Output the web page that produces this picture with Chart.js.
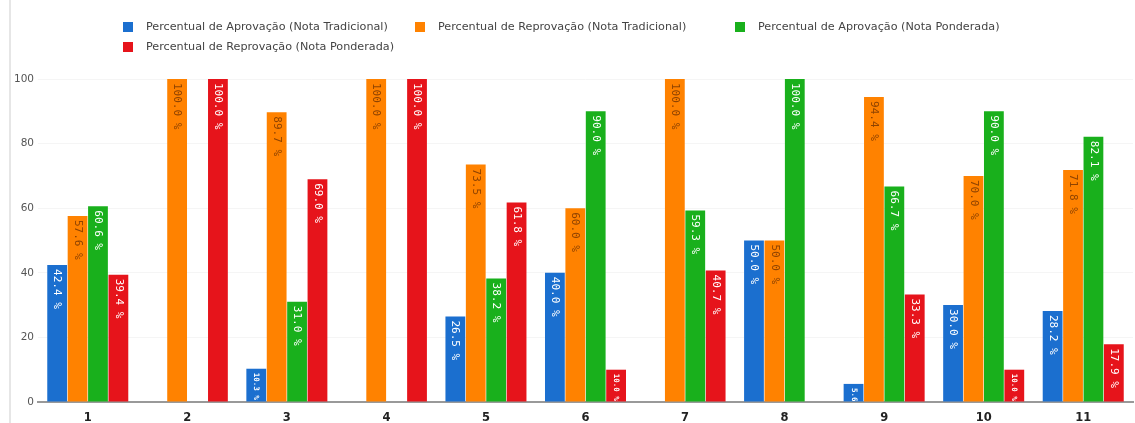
<!DOCTYPE html>
<html>
<head>
<meta charset="utf-8">
<script src="https://cdn.jsdelivr.net/npm/chart.js@4.4.1/dist/chart.umd.min.js"></script>
<style>
    html, body { margin: 0; padding: 0; background: #fff; overflow: hidden; }
    #wrap { position: relative; width: 1135px; height: 432px; }
    #grafico { position: absolute; left: 0; top: 0; }
    #edge { position: absolute; left: 9px; top: 0; width: 2px; height: 432px; background: #e6e6e6; }
    #legend { position: absolute; left: 0; top: 0; width: 1135px; height: 60px;
              font-family: "DejaVu Sans", Verdana, sans-serif; font-size: 11.2px; color: #444; }
    .item { position: absolute; display: flex; align-items: center; white-space: nowrap; }
    .box { width: 10px; height: 10px; margin-right: 13px; }
</style>
</head>
<body>
<div id="wrap">
    <canvas id="grafico" width="1135" height="432"></canvas>
    <div id="edge"></div>
    <div id="legend"></div>
</div>
<script>
// categorias (turmas)
const categorias = ['1', '2', '3', '4', '5', '6', '7', '8', '9', '10', '11'];

const nomesSeries = [
    'Percentual de Aprovação (Nota Tradicional)',
    'Percentual de Reprovação (Nota Tradicional)',
    'Percentual de Aprovação (Nota Ponderada)',
    'Percentual de Reprovação (Nota Ponderada)'
];

const aprovTradicional = [42.4, 0, 10.3, 0, 26.5, 40.0, 0, 50.0, 5.6, 30.0, 28.2];
const reprovTradicional = [57.6, 100.0, 89.7, 100.0, 73.5, 60.0, 100.0, 50.0, 94.4, 70.0, 71.8];
const aprovPonderada = [60.6, 0, 31.0, 0, 38.2, 90.0, 59.3, 100.0, 66.7, 90.0, 82.1];
const reprovPonderada = [39.4, 100.0, 69.0, 100.0, 61.8, 10.0, 40.7, 0, 33.3, 10.0, 17.9];

const ticksY = [0, 20, 40, 60, 80, 100];

const cores = ['#1b6fcf', '#ff8200', '#19b01c', '#e6141b'];
const coresRotulo = ['#ffffff', '#8f4300', '#ffffff', '#ffffff'];

// posição das legendas (linha, x)
const posLegenda = [[27, 123], [27, 415], [27, 735], [47, 123]];

const legend = document.getElementById('legend');
nomesSeries.forEach((nome, i) => {
    const el = document.createElement('div');
    el.className = 'item';
    el.style.left = posLegenda[i][1] + 'px';
    el.style.top = (posLegenda[i][0] - 7) + 'px';
    el.innerHTML = '<span class="box" style="background:' + cores[i] + '"></span>' + nome;
    legend.appendChild(el);
});

// rótulos verticais dentro das barras
const rotulosBarras = {
    id: 'rotulosBarras',
    afterDatasetsDraw(chart) {
        const ctx = chart.ctx;
        chart.data.datasets.forEach((ds, i) => {
            const meta = chart.getDatasetMeta(i);
            meta.data.forEach((bar, j) => {
                const v = ds.data[j];
                if (!v) return;
                const alto = bar.base - bar.y;
                const texto = v.toFixed(1) + ' %';
                const tam = alto < 45 ? 7.5 : 11;
                ctx.save();
                ctx.translate(bar.x, bar.y + 4);
                ctx.rotate(Math.PI / 2);
                ctx.font = (tam < 10 ? 'bold ' : '') + tam + 'px "DejaVu Sans Mono", monospace';
                ctx.fillStyle = coresRotulo[i];
                ctx.textAlign = 'left';
                ctx.textBaseline = 'middle';
                ctx.fillText(texto, 0, 0);
                ctx.restore();
            });
        });
    }
};

const series = [aprovTradicional, reprovTradicional, aprovPonderada, reprovPonderada];

new Chart(document.getElementById('grafico'), {
    type: 'bar',
    data: {
        labels: categorias,
        datasets: series.map((dados, i) => ({
            label: nomesSeries[i],
            data: dados,
            backgroundColor: cores[i],
            borderWidth: 0,
            barPercentage: 0.97,
            categoryPercentage: 0.82
        }))
    },
    options: {
        responsive: false,
        animation: false,
        devicePixelRatio: 1,
        layout: { padding: { top: 79, right: 2, left: 0, bottom: 0 } },
        plugins: {
            legend: { display: false },
            tooltip: { enabled: false }
        },
        scales: {
            x: {
                grid: { display: false, drawTicks: false },
                border: { color: '#999', width: 2 },
                ticks: {
                    padding: 9,
                    maxRotation: 0,
                    color: '#222',
                    font: { family: '"DejaVu Sans", Verdana, sans-serif', size: 11.5, weight: 'bold' }
                },
                afterFit: s => { s.height = 30; }
            },
            y: {
                min: 0,
                max: 100,
                afterBuildTicks: s => { s.ticks = ticksY.map(v => ({ value: v })); },
                grid: { color: '#f5f5f5', drawTicks: false },
                border: { display: false },
                ticks: {
                    padding: 4,
                    color: '#555',
                    font: { family: '"DejaVu Sans", Verdana, sans-serif', size: 10.5 }
                },
                afterFit: s => { s.width = 38; }
            }
        }
    },
    plugins: [rotulosBarras]
});
</script>
</body>
</html>
